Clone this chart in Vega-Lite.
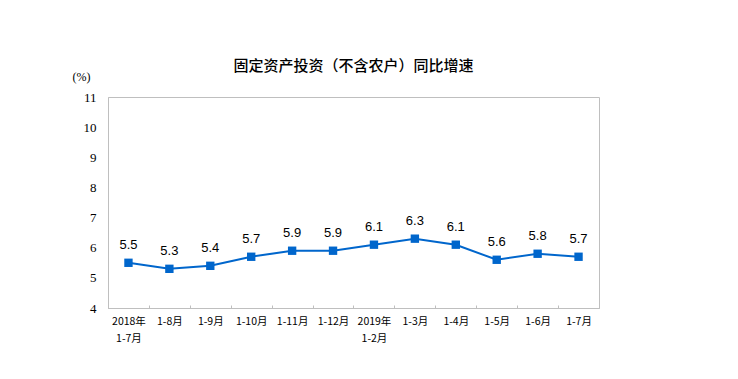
{
  "$schema": "https://vega.github.io/schema/vega-lite/v6.json",
  "autosize": {"type": "none"},
  "padding": {"left": 108, "top": 97, "right": 139, "bottom": 71},
  "width": 491,
  "height": 211,
  "background": "white",
  "title": {
    "text": "固定资产投资（不含农户）同比增速",
    "fontSize": 15,
    "font": "Noto Sans CJK SC",
    "fontWeight": 500,
    "color": "#000000",
    "anchor": "middle",
    "offset": -4
  },
  "config": {
    "view": {"stroke": "#BFBFBF", "strokeWidth": 1},
    "axis": {"grid": false}
  },
  "data": {
    "values": [
      {"period": "2018年\n1-7月", "value": 5.5},
      {"period": "1-8月", "value": 5.3},
      {"period": "1-9月", "value": 5.4},
      {"period": "1-10月", "value": 5.7},
      {"period": "1-11月", "value": 5.9},
      {"period": "1-12月", "value": 5.9},
      {"period": "2019年\n1-2月", "value": 6.1},
      {"period": "1-3月", "value": 6.3},
      {"period": "1-4月", "value": 6.1},
      {"period": "1-5月", "value": 5.6},
      {"period": "1-6月", "value": 5.8},
      {"period": "1-7月", "value": 5.7}
    ]
  },
  "encoding": {
    "x": {
      "field": "period",
      "type": "nominal",
      "sort": null,
      "scale": {"paddingInner": 0, "paddingOuter": 0},
      "axis": {
        "title": null,
        "labelAngle": 0,
        "labelExpr": "split(datum.label, '\\n')",
        "labelFont": "Noto Sans CJK SC",
        "labelFontSize": 10.5,
        "labelColor": "#000000",
        "labelPadding": 11,
        "labelLineHeight": 17,
        "labelBaseline": "top",
        "tickBand": "extent",
        "tickSize": -3,
        "tickColor": "#BFBFBF",
        "domainColor": "#BFBFBF"
      }
    },
    "y": {
      "field": "value",
      "type": "quantitative",
      "scale": {"domain": [4, 11], "nice": false, "zero": false},
      "axis": {
        "values": [4, 5, 6, 7, 8, 9, 10, 11],
        "title": "(%)",
        "titleAngle": 0,
        "titleX": -27,
        "titleY": -14,
        "titleAlign": "center",
        "titleFont": "Liberation Serif",
        "titleFontSize": 12,
        "titleFontWeight": "normal",
        "titleColor": "#000000",
        "labelFont": "Liberation Serif",
        "labelFontSize": 13,
        "labelColor": "#000000",
        "labelPadding": 12,
        "ticks": false,
        "domainColor": "#BFBFBF"
      }
    }
  },
  "layer": [
    {
      "mark": {"type": "line", "color": "#0066CC", "strokeWidth": 2}
    },
    {
      "mark": {"type": "point", "shape": "square", "filled": true, "size": 70, "color": "#0066CC", "opacity": 1}
    },
    {
      "mark": {"type": "text", "dy": -18, "font": "Liberation Sans", "fontSize": 13, "color": "#000000"},
      "encoding": {"text": {"field": "value", "type": "quantitative", "format": ".1f"}}
    }
  ]
}
